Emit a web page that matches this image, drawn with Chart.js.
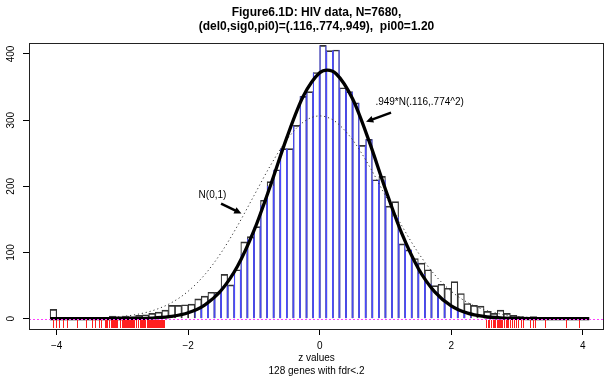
<!DOCTYPE html>
<html>
<head>
<meta charset="utf-8">
<script src="https://cdn.jsdelivr.net/npm/chart.js@4.4.1/dist/chart.umd.min.js"></script>
<style>
html, body { margin: 0; padding: 0; background: #fff; }
#wrap { width: 606px; height: 387px; }
</style>
</head>
<body>
<div id="wrap"><canvas id="histChart" width="606" height="387"></canvas></div>
<script>
// histogram of z values, 82 bins of width .1 starting at -4.1
const binStart = -4.1;
const binWidth = 0.1;
const counts = [
    14, 2, 1, 1, 2, 1, 1, 2, 2, 4, 3, 4, 3, 5, 6,
    8, 10, 13, 20, 20, 21,
    22, 30, 34, 40, 40, 67, 51,
    74, 116, 124, 139, 179, 207, 225, 257, 257, 292, 336, 343, 372,
    413, 405, 406, 349, 343, 326, 262, 271, 210, 215,
    170, 177, 113, 104, 91, 84, 74, 50, 52, 46,
    56, 38, 23, 20, 19, 11, 8, 13, 8, 5,
    3, 2, 3, 1, 2, 1, 1, 1, 1, 1, 1
];
// blue part of each bar (null counts)
const nullCounts = [
    0, 0, 0, 0, 0, 0, 0, 0, 0, 0, 0, 0, 0, 0, 0,
    0, 0, 0, 0, 0, 0,
    0, 15, 21, 28, 37, 48, 51,
    74, 98, 121, 139, 172, 201, 225, 257, 257, 292, 336, 343, 372,
    413, 405, 406, 349, 343, 326, 262, 271, 210, 210,
    170, 154, 113, 104, 85, 68, 53, 41, 31, 23,
    17, 12, 8, 0, 0, 0, 0, 0, 0, 0,
    0, 0, 0, 0, 0, 0, 0, 0, 0, 0, 0
];

// curves
const curveZ = [-4.1, -3.5, -3, -2.75, -2.5, -2.25, -2, -1.75, -1.5, -1.25, -1, -0.75, -0.5, -0.25, 0, 0.116,
    0.25, 0.5, 0.75, 1, 1.25, 1.5, 1.75, 2, 2.25, 2.5, 2.75, 3, 3.5, 4.1];
const fitCurve = [0, 0.01, 0.1, 0.4, 1.3, 3.5, 8.9, 20.6, 42.5, 79.2, 132.9, 200.9, 273.7, 336, 371.5, 375.7,
    370.1, 332.2, 268.6, 195.7, 128.4, 75.9, 40.5, 19.4, 8.4, 3.3, 1.1, 0.4, 0.03, 0];
const n01Curve = [0.07, 0.67, 3.4, 7.0, 13.5, 24.4, 41.5, 66.3, 99.5, 140.3, 185.8, 231.3, 270.4, 297, 306.4, 304.3,
    297, 270.4, 231.3, 185.8, 140.3, 99.5, 66.3, 41.5, 24.4, 13.5, 7.0, 3.4, 0.67, 0.07];

// rug of the 128 genes with fdr < .2
const rugZ = [
    -4.05, -4.01, -3.96, -3.91, -3.84, -3.69, -3.56, -3.46, -3.41, -3.36, -3.33,
    -3.27, -3.25, -3.23, -3.21, -3.2, -3.18, -3.16, -3.15, -3.13, -3.12, -3.1, -3.08,
    -3.03, -3.01, -2.99, -2.98, -2.96, -2.95, -2.93, -2.92, -2.9, -2.89, -2.87, -2.86,
    -2.84, -2.83, -2.82, -2.8, -2.79, -2.77, -2.76, -2.74, -2.73, -2.72, -2.7, -2.69,
    -2.67, -2.66, -2.65, -2.63, -2.62, -2.61, -2.59, -2.58, -2.57, -2.55, -2.54, -2.53,
    -2.52, -2.5, -2.49, -2.48, -2.47, -2.46, -2.45, -2.44, -2.43, -2.42, -2.41, -2.4,
    -2.39, -2.38, -2.37,
    2.53, 2.56, 2.58, 2.6, 2.63, 2.65, 2.67, 2.69, 2.71, 2.72, 2.74, 2.75, 2.77, 2.78,
    2.8, 2.81, 2.83, 2.85, 2.87, 2.89, 2.92, 2.95, 2.98, 3.02, 3.06, 3.09, 3.2, 3.24,
    3.28, 3.42, 3.75, 3.95
];

const xTicks = [-4, -2, 0, 2, 4];
const yTicks = [0, 100, 200, 300, 400];

const titleLines = ["Figure6.1D: HIV data, N=7680,", "(del0,sig0,pi0)=(.116,.774,.949),  pi00=1.20"];
const xLabelLines = ["z values", "128 genes with fdr<.2"];
const fitLabel = ".949*N(.116,.774^2)";
const n01Label = "N(0,1)";

const FONT = "'Liberation Sans', Arial, Helvetica, sans-serif";

function binMid(i) {
    return Math.round((binStart + binWidth * (i + 0.5)) * 1000) / 1000;
}

function drawArrow(ctx, x1, y1, x2, y2) {
    let ang = Math.atan2(y2 - y1, x2 - x1);
    let head = 8;
    ctx.beginPath();
    ctx.moveTo(x1, y1);
    ctx.lineTo(x2 - Math.cos(ang) * head * 0.6, y2 - Math.sin(ang) * head * 0.6);
    ctx.stroke();
    ctx.beginPath();
    ctx.moveTo(x2, y2);
    ctx.lineTo(x2 - head * Math.cos(ang - 0.45), y2 - head * Math.sin(ang - 0.45));
    ctx.lineTo(x2 - head * Math.cos(ang + 0.45), y2 - head * Math.sin(ang + 0.45));
    ctx.closePath();
    ctx.fill();
}

const extras = {
    id: "extras",
    afterDatasetsDraw(chart) {
        let ctx = chart.ctx;
        let x = chart.scales.x, y = chart.scales.y;
        let a = chart.chartArea;
        let y0 = Math.round(y.getPixelForValue(0)) + 0.5;
        ctx.save();
        // pink dashed zero line
        ctx.strokeStyle = "#ff40ff";
        ctx.lineWidth = 1;
        ctx.setLineDash([2, 2]);
        ctx.beginPath();
        ctx.moveTo(a.left, y0);
        ctx.lineTo(a.right, y0);
        ctx.stroke();
        ctx.setLineDash([]);
        // red rug
        ctx.strokeStyle = "#ff2020";
        ctx.beginPath();
        rugZ.forEach(function (z) {
            let px = Math.round(x.getPixelForValue(z)) + 0.5;
            ctx.moveTo(px, y0 + 0.5);
            ctx.lineTo(px, y0 + 8.5);
        });
        ctx.stroke();
        // annotations
        ctx.fillStyle = "#000";
        ctx.strokeStyle = "#000";
        ctx.font = "10px " + FONT;
        ctx.textAlign = "center";
        ctx.textBaseline = "middle";
        ctx.fillText(fitLabel, x.getPixelForValue(1.52), y.getPixelForValue(327));
        ctx.fillText(n01Label, x.getPixelForValue(-1.63), y.getPixelForValue(187));
        ctx.lineWidth = 2.5;
        drawArrow(ctx, x.getPixelForValue(1.085), y.getPixelForValue(311.5), x.getPixelForValue(0.705), y.getPixelForValue(297.5));
        drawArrow(ctx, x.getPixelForValue(-1.5), y.getPixelForValue(174), x.getPixelForValue(-1.19), y.getPixelForValue(159));
        ctx.restore();
    },
    afterDraw(chart) {
        let ctx = chart.ctx;
        let a = chart.chartArea;
        let y = chart.scales.y;
        ctx.save();
        // box round the plot
        ctx.strokeStyle = "#222";
        ctx.lineWidth = 1;
        ctx.strokeRect(a.left + 0.5, a.top + 0.5, a.right - a.left - 1, a.bottom - a.top);
        // rotated y tick labels
        ctx.fillStyle = "#000";
        ctx.font = "10px " + FONT;
        ctx.textAlign = "center";
        ctx.textBaseline = "middle";
        yTicks.forEach(function (v) {
            ctx.save();
            ctx.translate(11.5, y.getPixelForValue(v));
            ctx.rotate(-Math.PI / 2);
            ctx.fillText(String(v), 0, 0);
            ctx.restore();
        });
        // title
        let cx = (a.left + a.right) / 2;
        ctx.font = "bold 12px " + FONT;
        ctx.fillText(titleLines[0], cx, 13);
        ctx.fillText(titleLines[1], cx, 27);
        // x axis label
        ctx.font = "10px " + FONT;
        ctx.fillText(xLabelLines[0], cx, 358);
        ctx.fillText(xLabelLines[1], cx, 371);
        ctx.restore();
    }
};

function renderChart() {
    let ctx = document.getElementById("histChart").getContext("2d");
    let barData = counts.map((c, i) => ({ x: binMid(i), y: c }));
    let nullData = nullCounts.map((c, i) => ({ x: binMid(i), y: c }));

    new Chart(ctx, {
        data: {
            datasets: [
                {
                    type: "line",
                    data: curveZ.map((z, i) => ({ x: z, y: fitCurve[i] })),
                    borderColor: "#000",
                    borderWidth: 3.3,
                    pointRadius: 0,
                    cubicInterpolationMode: "monotone",
                    fill: false,
                    order: 0
                },
                {
                    type: "line",
                    data: curveZ.map((z, i) => ({ x: z, y: n01Curve[i] })),
                    borderColor: "#333",
                    borderWidth: 1,
                    borderDash: [1.2, 2.8],
                    pointRadius: 0,
                    cubicInterpolationMode: "monotone",
                    fill: false,
                    order: 1
                },
                {
                    type: "bar",
                    data: nullData,
                    backgroundColor: "rgba(0,0,0,0)",
                    borderColor: "#4a4aff",
                    borderWidth: { left: 0.5, right: 0.5, top: 0, bottom: 0 },
                    borderSkipped: false,
                    grouped: false,
                    barPercentage: 1,
                    categoryPercentage: 1,
                    order: 2
                },
                {
                    type: "bar",
                    data: barData,
                    backgroundColor: "rgba(0,0,0,0)",
                    borderColor: "#333",
                    borderWidth: { left: 0.5, right: 0.5, top: 1, bottom: 0 },
                    borderSkipped: false,
                    grouped: false,
                    barPercentage: 1,
                    categoryPercentage: 1,
                    order: 3
                }
            ]
        },
        options: {
            responsive: false,
            animation: false,
            layout: { padding: { top: 43, right: 2, left: 0, bottom: 0 } },
            plugins: { legend: { display: false }, tooltip: { enabled: false }, title: { display: false } },
            scales: {
                x: {
                    type: "linear",
                    offset: false,
                    min: -4.421,
                    max: 4.324,
                    afterBuildTicks: (s) => { s.ticks = xTicks.map(v => ({ value: v })); },
                    afterFit: (s) => { s.height = 58; },
                    grid: { offset: false, drawOnChartArea: false, drawTicks: true, tickLength: 6, color: "#000" },
                    border: { display: false },
                    ticks: {
                        color: "#000",
                        padding: 5,
                        maxRotation: 0,
                        font: { family: FONT, size: 10 },
                        callback: (v) => String(v).replace("-", "\u2212")
                    }
                },
                y: {
                    type: "linear",
                    min: -15.6,
                    max: 416.6,
                    afterBuildTicks: (s) => { s.ticks = yTicks.map(v => ({ value: v })); },
                    afterFit: (s) => { s.width = 29; },
                    grid: { drawOnChartArea: false, drawTicks: true, tickLength: 6, color: "#000" },
                    border: { display: false },
                    ticks: { callback: () => "" }
                }
            }
        },
        plugins: [extras]
    });
}

document.addEventListener("DOMContentLoaded", renderChart);
</script>
</body>
</html>
